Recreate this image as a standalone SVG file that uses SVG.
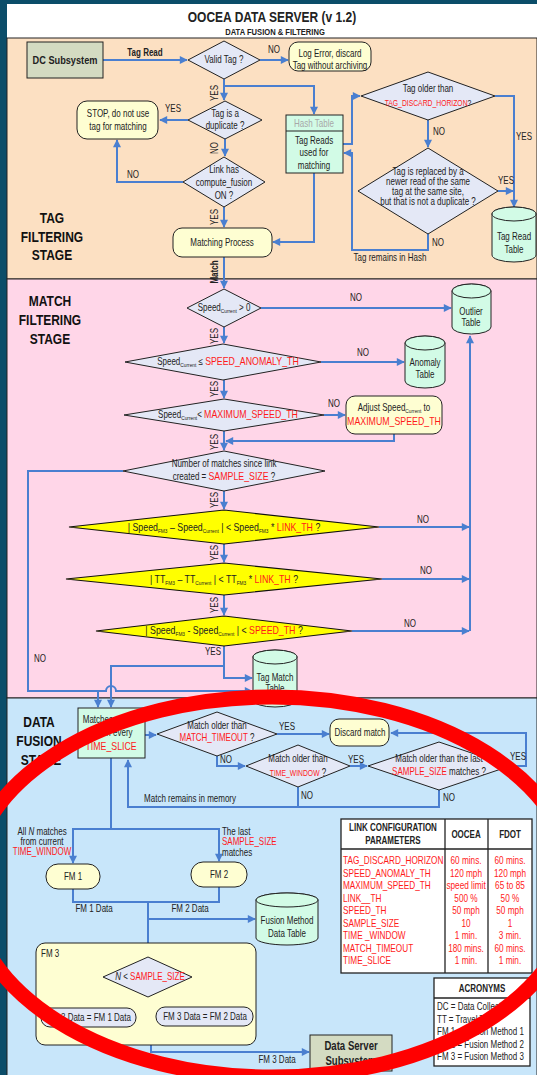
<svg xmlns="http://www.w3.org/2000/svg" width="537" height="1075" viewBox="0 0 537 1075">
  <defs>
    <marker id="ah" viewBox="0 0 10 10" refX="9" refY="5" markerWidth="4.5" markerHeight="4" orient="auto" markerUnits="strokeWidth">
      <path d="M0,0 L10,5 L0,10 z" fill="#4a7fd0"/>
    </marker>
    <style>
      /* narrow sans look: Arial metrics squeezed horizontally around each label */
      .t{font-family:'Liberation Sans',Arial,sans-serif;font-size:10px;fill:#222;text-anchor:middle;
         transform-box:fill-box;transform-origin:center;transform:scaleX(0.8)}
      .l{text-anchor:start;transform-origin:left center}
      .b{font-weight:bold}
      .r{fill:#ff1a1a}
      .stage{font-size:15px;font-weight:bold;fill:#111}
      .p{font-size:10.3px}
      .c{fill:none;stroke:#4a7fd0;stroke-width:2}
      .a{marker-end:url(#ah)}
      .dia{fill:#e4e8f6;stroke:#222;stroke-width:1}
      .ydia{fill:#ffff00;stroke:#111;stroke-width:1.2}
      .box{fill:#fefed2;stroke:#222;stroke-width:1}
      .mint{fill:#d2fbe6;stroke:#222;stroke-width:1}
      .sub{fill:#d4dbc2;stroke:#222;stroke-width:1}
      .tbl{fill:#fff;stroke:#222;stroke-width:1.3}
    </style>
  </defs>

  <!-- page background and stage bands -->
  <rect x="0" y="0" width="537" height="1075" fill="#0b4d69"/>
  <rect x="7" y="4" width="530" height="34" fill="#fff"/>
  <rect x="7" y="38" width="530" height="241" fill="#fce0c2" stroke="#222" stroke-width="1"/>
  <rect x="7" y="279" width="530" height="419" fill="#ffd6e8" stroke="#222" stroke-width="1"/>
  <rect x="7" y="698" width="530" height="380" fill="#c8e6fa" stroke="#222" stroke-width="1"/>

  <text class="t b" x="272" y="22" style="font-size:15px">OOCEA DATA SERVER (v 1.2)</text>
  <text class="t b" x="275" y="35" style="font-size:9.5px">DATA FUSION &amp; FILTERING</text>

  <!-- stage titles -->
  <g id="stage-tag">
    <text class="t stage" x="52" y="223">TAG</text>
    <text class="t stage" x="52" y="242">FILTERING</text>
    <text class="t stage" x="52" y="260">STAGE</text>
  </g>
  <g id="stage-match">
    <text class="t stage" x="50" y="306">MATCH</text>
    <text class="t stage" x="50" y="325">FILTERING</text>
    <text class="t stage" x="50" y="344">STAGE</text>
  </g>
  <g id="stage-fusion">
    <text class="t stage" x="39" y="727">DATA</text>
    <text class="t stage" x="39" y="746">FUSION</text>
    <text class="t stage" x="41" y="765">STAGE</text>
  </g>

  <!-- connectors -->
  <g id="connectors">
    <path class="c a" d="M103,60 H187"/>
    <path class="c a" d="M260,60 H288"/>
    <path class="c a" d="M224,79 V100"/>
    <path class="c a" d="M224,86 H314 V114"/>
    <path class="c a" d="M188,120 H160"/>
    <path class="c a" d="M225,138 V156"/>
    <path class="c a" d="M183,182 H117 V140"/>
    <path class="c a" d="M224,207 V227"/>
    <path class="c a" d="M314,173 V242 H273"/>
    <path class="c a" d="M343,144 H352 V96 H360"/>
    <path class="c a" d="M495,96 H514 V207"/>
    <path class="c a" d="M428,120 V147"/>
    <path class="c a" d="M498,191 H513"/>
    <path class="c a" d="M428,234 V250 H352 V153 H344"/>
    <path class="c a" d="M224,257 V288"/>

    <path class="c a" d="M261,308 H451"/>
    <path class="c a" d="M224,327 V343"/>
    <path class="c a" d="M321,362 H404"/>
    <path class="c a" d="M224,380 V398"/>
    <path class="c a" d="M324,415 H345"/>
    <path class="c a" d="M394,434 V441 H226"/>
    <path class="c a" d="M224,431 V450"/>
    <path class="c a" d="M123,471 H28 V691 H106 a5,5 0 0 1 10,0 H252"/>
    <path class="c a" d="M224,491 V509"/>
    <path class="c a" d="M379,527 H469"/>
    <path class="c a" d="M224,544 V562"/>
    <path class="c a" d="M382,579 H469"/>
    <path class="c a" d="M224,595 V615"/>
    <path class="c a" d="M352,631 H469"/>
    <path class="c a" d="M470,631 V336"/>
    <path class="c a" d="M224,646 V678 H252"/>
    <path class="c a" d="M224,666 H111 V707"/>
    <path class="c a" d="M98,691 V707"/>

    <path class="c a" d="M145,735 H156"/>
    <path class="c a" d="M277,734 H329"/>
    <path class="c a" d="M217,756 V766 H245"/>
    <path class="c a" d="M350,766 H367"/>
    <path class="c a" d="M509,766 H526 V733 H391"/>
    <path class="c a" d="M298,787 V807 H128 V760"/>
    <path class="c" d="M439,790 V807 H298"/>
    <path class="c a" d="M111,758 V829 H73 V863"/>
    <path class="c a" d="M111,829 H219 V861"/>
    <path class="c" d="M73,889 V902 H219 V887"/>
    <path class="c a" d="M148,902 V956"/>
    <path class="c a" d="M148,919 H255"/>
    <path class="c a" d="M103,977 H89 V1007"/>
    <path class="c a" d="M192,977 H205 V1006"/>
    <path class="c" d="M89,1027 V1038 H205 V1026"/>
    <path class="c a" d="M151,1038 V1052 H309"/>
  </g>

  <!-- connector labels -->
  <g id="labels">
    <text class="t b" x="145" y="56">Tag Read</text>
    <text class="t" x="274" y="53">NO</text>
    <g transform="translate(218,93) rotate(-90)"><text class="t" x="0" y="0">YES</text></g>
    <text class="t" x="173" y="112">YES</text>
    <g transform="translate(218,148) rotate(-90)"><text class="t" x="0" y="0">NO</text></g>
    <text class="t" x="133" y="178">NO</text>
    <g transform="translate(218,217) rotate(-90)"><text class="t" x="0" y="0">YES</text></g>
    <g transform="translate(218,272) rotate(-90)"><text class="t b" x="0" y="0">Match</text></g>
    <text class="t l" x="433" y="135">NO</text>
    <text class="t" x="524" y="140">YES</text>
    <text class="t" x="506" y="184">YES</text>
    <text class="t l" x="432" y="246">NO</text>
    <text class="t" x="390" y="261">Tag remains in Hash</text>

    <text class="t" x="356" y="301">NO</text>
    <g transform="translate(218,336) rotate(-90)"><text class="t" x="0" y="0">YES</text></g>
    <text class="t" x="363" y="356">NO</text>
    <g transform="translate(218,389) rotate(-90)"><text class="t" x="0" y="0">YES</text></g>
    <text class="t" x="334" y="407">NO</text>
    <g transform="translate(218,442) rotate(-90)"><text class="t" x="0" y="0">YES</text></g>
    <g transform="translate(218,500) rotate(-90)"><text class="t" x="0" y="0">YES</text></g>
    <text class="t" x="423" y="523">NO</text>
    <g transform="translate(218,553) rotate(-90)"><text class="t" x="0" y="0">YES</text></g>
    <text class="t" x="426" y="574">NO</text>
    <g transform="translate(218,605) rotate(-90)"><text class="t" x="0" y="0">YES</text></g>
    <text class="t" x="410" y="627">NO</text>
    <text class="t" x="213" y="655">YES</text>
    <text class="t" x="40" y="662">NO</text>

    <text class="t" x="287" y="730">YES</text>
    <text class="t l" x="220" y="763">NO</text>
    <text class="t" x="356" y="763">YES</text>
    <text class="t" x="518" y="760">YES</text>
    <text class="t l" x="301" y="799">NO</text>
    <text class="t l" x="443" y="801">NO</text>
    <text class="t" x="190" y="802">Match remains in memory</text>
    <text class="t" x="42" y="835">All <tspan font-style="italic">N</tspan>  matches</text>
    <text class="t" x="42" y="845">from current</text>
    <text class="t r" x="42" y="855">TIME_WINDOW</text>
    <text class="t l" x="222" y="835">The last</text>
    <text class="t l r" x="222" y="845">SAMPLE_SIZE</text>
    <text class="t l" x="222" y="856">matches</text>
    <text class="t" x="94" y="912">FM 1 Data</text>
    <text class="t" x="190" y="912">FM 2 Data</text>
    <text class="t" x="88" y="973">NO</text>
    <text class="t" x="205" y="973">YES</text>
    <text class="t" x="277" y="1063">FM 3 Data</text>
  </g>

  <!-- tag filtering stage -->
  <g id="dc-subsystem">
    <rect class="sub" x="27" y="42" width="76" height="36"/>
    <text class="t b" x="65" y="64" style="font-size:11.5px">DC Subsystem</text>
  </g>
  <g id="valid-tag">
    <polygon class="dia" points="188,60 224,41 260,60 224,79"/>
    <text class="t" x="224" y="63">Valid Tag ?</text>
  </g>
  <g id="log-error">
    <rect class="box" x="289" y="42" width="82" height="29" rx="9"/>
    <text class="t" x="330" y="57">Log Error, discard</text>
    <text class="t" x="330" y="69">Tag without archiving</text>
  </g>
  <g id="duplicate">
    <polygon class="dia" points="188,120 225,101 262,120 225,139"/>
    <text class="t" x="225" y="117">Tag is a</text>
    <text class="t" x="225" y="129">duplicate ?</text>
  </g>
  <g id="stop">
    <rect class="box" x="77" y="101" width="81" height="38" rx="10"/>
    <text class="t" x="118" y="117">STOP, do not use</text>
    <text class="t" x="118" y="130">tag for matching</text>
  </g>
  <g id="compute-fusion">
    <polygon class="dia" points="183,182 224,157 265,182 224,207"/>
    <text class="t" x="224" y="173">Link has</text>
    <text class="t" x="224" y="186">compute_fusion</text>
    <text class="t" x="224" y="199">ON ?</text>
  </g>
  <g id="matching-process">
    <rect class="box" x="173" y="228" width="99" height="29" rx="9"/>
    <text class="t" x="222" y="246">Matching Process</text>
  </g>
  <g id="hash-table">
    <rect class="mint" x="286" y="115" width="57" height="58"/>
    <line x1="286" y1="131" x2="343" y2="131" stroke="#222" stroke-width="1"/>
    <text class="t" x="314" y="127" style="fill:#a8a8a8">Hash Table</text>
    <text class="t" x="314" y="144">Tag Reads</text>
    <text class="t" x="314" y="156">used for</text>
    <text class="t" x="314" y="169">matching</text>
  </g>
  <g id="tag-older">
    <polygon class="dia" points="361,96 428,72 495,96 428,120"/>
    <text class="t" x="428" y="92">Tag older than</text>
    <text class="t" x="428" y="106" style="font-size:8.5px"><tspan class="r">TAG_DISCARD_HORIZON</tspan>?</text>
  </g>
  <g id="tag-replaced">
    <polygon class="dia" points="358,191 428,148 498,191 428,234"/>
    <text class="t" x="428" y="175">Tag is replaced by a</text>
    <text class="t" x="428" y="185">newer read of the same</text>
    <text class="t" x="428" y="195">tag at the same site,</text>
    <text class="t" x="428" y="205">but that is not a duplicate ?</text>
  </g>
  <g id="tag-read-table">
    <path class="mint" d="M492,214 V255 A22,7 0 0 0 536,255 V214 A22,7 0 0 0 492,214 Z"/>
    <ellipse class="mint" cx="514" cy="214" rx="22" ry="7"/>
    <text class="t" x="514" y="240">Tag Read</text>
    <text class="t" x="514" y="253">Table</text>
  </g>

  <!-- match filtering stage -->
  <g id="speed-positive">
    <polygon class="dia" points="187,308 224,289 261,308 224,327"/>
    <text class="t" x="224" y="311">Speed<tspan font-size="6" dy="2">Current</tspan><tspan dy="-2"> &gt; 0</tspan></text>
  </g>
  <g id="outlier-table">
    <path class="mint" d="M452,291 V327 A19.5,7 0 0 0 491,327 V291 A19.5,7 0 0 0 452,291 Z"/>
    <ellipse class="mint" cx="471.5" cy="291" rx="19.5" ry="7"/>
    <text class="t" x="471" y="315">Outlier</text>
    <text class="t" x="471" y="326">Table</text>
  </g>
  <g id="speed-anomaly">
    <polygon class="dia" points="125,362 223,344 321,362 223,380"/>
    <text class="t" x="228" y="365">Speed<tspan font-size="6" dy="2">Current</tspan><tspan dy="-2"> ≤ </tspan><tspan class="r" style="font-size:11px">SPEED_ANOMALY_TH</tspan></text>
  </g>
  <g id="anomaly-table">
    <path class="mint" d="M405,343 V381 A20,7 0 0 0 445,381 V343 A20,7 0 0 0 405,343 Z"/>
    <ellipse class="mint" cx="425" cy="343" rx="20" ry="7"/>
    <text class="t" x="425" y="366">Anomaly</text>
    <text class="t" x="425" y="378">Table</text>
  </g>
  <g id="max-speed">
    <polygon class="dia" points="124,415 224,399 324,415 224,431"/>
    <text class="t" x="228" y="418">Speed<tspan font-size="6" dy="2">Current</tspan><tspan dy="-2">&lt; </tspan><tspan class="r" style="font-size:11px">MAXIMUM_SPEED_TH</tspan></text>
  </g>
  <g id="adjust-speed">
    <rect class="box" x="346" y="396" width="96" height="38" rx="9"/>
    <text class="t" x="394" y="411">Adjust Speed<tspan font-size="6" dy="2">Current</tspan><tspan dy="-2"> to</tspan></text>
    <text class="t r" x="394" y="425" style="font-size:11px">MAXIMUM_SPEED_TH</text>
  </g>
  <g id="sample-count">
    <polygon class="dia" points="123,471 224,451 325,471 224,491"/>
    <text class="t" x="224" y="467">Number of matches since link</text>
    <text class="t" x="224" y="480">created = <tspan class="r" style="font-size:11px">SAMPLE_SIZE</tspan> ?</text>
  </g>
  <g id="link-speed-check">
    <polygon class="ydia" points="69,527 224,510 379,527 224,544"/>
    <text class="t" x="224" y="531" style="font-size:11px">| Speed<tspan font-size="6" dy="2">FM3</tspan><tspan dy="-2"> – Speed</tspan><tspan font-size="6" dy="2">Current</tspan><tspan dy="-2"> | &lt;  Speed</tspan><tspan font-size="6" dy="2">FM3</tspan><tspan dy="-2"> * </tspan><tspan class="r">LINK_TH</tspan> ?</text>
  </g>
  <g id="link-tt-check">
    <polygon class="ydia" points="66,579 224,563 382,579 224,595"/>
    <text class="t" x="224" y="583" style="font-size:11px">| TT<tspan font-size="6" dy="2">FM3</tspan><tspan dy="-2"> – TT</tspan><tspan font-size="6" dy="2">Current</tspan><tspan dy="-2"> | &lt; TT</tspan><tspan font-size="6" dy="2">FM3</tspan><tspan dy="-2"> * </tspan><tspan class="r">LINK_TH</tspan> ?</text>
  </g>
  <g id="speed-th-check">
    <polygon class="ydia" points="96,631 224,616 352,631 224,646"/>
    <text class="t" x="224" y="634" style="font-size:11px">| Speed<tspan font-size="6" dy="2">FM3</tspan><tspan dy="-2"> - Speed</tspan><tspan font-size="6" dy="2">Current</tspan><tspan dy="-2"> | &lt; </tspan><tspan class="r">SPEED_TH</tspan> ?</text>
  </g>
  <g id="tag-match-table">
    <path class="mint" d="M253,657 V700 A22,7 0 0 0 297,700 V657 A22,7 0 0 0 253,657 Z"/>
    <ellipse class="mint" cx="275" cy="657" rx="22" ry="7"/>
    <text class="t" x="275" y="681">Tag Match</text>
    <text class="t" x="275" y="692">Table</text>
  </g>

  <!-- data fusion stage -->
  <g id="match-buffer">
    <rect class="mint" x="78" y="708" width="67" height="50"/>
    <text class="t" x="111" y="723">Matches sent to</text>
    <text class="t" x="111" y="736">fusion every</text>
    <text class="t r" x="111" y="750" style="font-size:11px">TIME_SLICE</text>
  </g>
  <g id="match-timeout">
    <polygon class="dia" points="157,734 217,712 277,734 217,756"/>
    <text class="t" x="217" y="729">Match older than</text>
    <text class="t" x="217" y="741"><tspan class="r">MATCH_TIMEOUT</tspan> ?</text>
  </g>
  <g id="discard-match">
    <rect class="box" x="330" y="719" width="59" height="27" rx="9"/>
    <text class="t" x="360" y="736">Discard match</text>
  </g>
  <g id="time-window">
    <polygon class="dia" points="246,766 298,745 350,766 298,787"/>
    <text class="t" x="298" y="762">Match older than</text>
    <text class="t" x="298" y="776"><tspan class="r" style="font-size:8.5px">TIME_WINDOW</tspan> ?</text>
  </g>
  <g id="last-sample">
    <polygon class="dia" points="368,766 439,742 510,766 439,790"/>
    <text class="t" x="439" y="762">Match older than the last</text>
    <text class="t" x="439" y="775"><tspan class="r">SAMPLE_SIZE</tspan> matches  ?</text>
  </g>
  <g id="fm1">
    <rect class="box" x="46" y="864" width="54" height="25" rx="12"/>
    <text class="t" x="73" y="880">FM 1</text>
  </g>
  <g id="fm2">
    <rect class="box" x="191" y="862" width="56" height="25" rx="12"/>
    <text class="t" x="219" y="878">FM 2</text>
  </g>
  <g id="fusion-table">
    <path class="mint" d="M256,900 V938 A31,7 0 0 0 318,938 V900 A31,7 0 0 0 256,900 Z"/>
    <ellipse class="mint" cx="287" cy="900" rx="31" ry="7"/>
    <text class="t" x="287" y="924">Fusion Method</text>
    <text class="t" x="287" y="937">Data Table</text>
  </g>
  <g id="fm3">
    <rect class="box" x="36" y="943" width="220" height="102" rx="9"/>
    <text class="t l" x="41" y="957">FM 3</text>
    <polygon class="dia" points="103,977 148,957 192,977 148,997"/>
    <text class="t" x="150" y="980"><tspan font-style="italic">N</tspan> &lt; <tspan class="r">SAMPLE_SIZE</tspan></text>
    <rect class="dia" x="41" y="1008" width="95" height="19" rx="9"/>
    <text class="t" x="89" y="1021">FM 3 Data = FM 1 Data</text>
    <rect class="dia" x="156" y="1007" width="97" height="19" rx="9"/>
    <text class="t" x="205" y="1020">FM 3 Data = FM 2 Data</text>
  </g>
  <g id="data-server">
    <rect class="sub" x="310" y="1035" width="82" height="36"/>
    <text class="t b" x="351" y="1050" style="font-size:12px">Data Server</text>
    <text class="t b" x="351" y="1065" style="font-size:12px">Subsystem</text>
  </g>

  <!-- configuration table -->
  <g id="link-config">
    <rect class="tbl" x="341" y="819" width="191" height="154"/>
    <line x1="341" y1="849" x2="532" y2="849" stroke="#222" stroke-width="1.3"/>
    <line x1="445" y1="819" x2="445" y2="973" stroke="#222" stroke-width="1.3"/>
    <line x1="488" y1="819" x2="488" y2="973" stroke="#222" stroke-width="1.3"/>
    <text class="t b" x="393" y="831">LINK CONFIGURATION</text>
    <text class="t b" x="393" y="844">PARAMETERS</text>
    <text class="t b" x="466" y="838">OOCEA</text>
    <text class="t b" x="510" y="838">FDOT</text>
    <text class="t l r p" x="343" y="864">TAG_DISCARD_HORIZON</text>
    <text class="t l r p" x="343" y="877">SPEED_ANOMALY_TH</text>
    <text class="t l r p" x="343" y="889">MAXIMUM_SPEED_TH</text>
    <text class="t l r p" x="343" y="902">LINK__TH</text>
    <text class="t l r p" x="343" y="914">SPEED_TH</text>
    <text class="t l r p" x="343" y="927">SAMPLE_SIZE</text>
    <text class="t l r p" x="343" y="939">TIME _WINDOW</text>
    <text class="t l r p" x="343" y="952">MATCH_TIMEOUT</text>
    <text class="t l r p" x="343" y="964">TIME_SLICE</text>
    <text class="t r p" x="466" y="864">60 mins.</text>
    <text class="t r p" x="466" y="877">120 mph</text>
    <text class="t r p" x="466" y="889">speed limit</text>
    <text class="t r p" x="466" y="902">500 %</text>
    <text class="t r p" x="466" y="914">50 mph</text>
    <text class="t r p" x="466" y="927">10</text>
    <text class="t r p" x="466" y="939">1 min.</text>
    <text class="t r p" x="466" y="952">180 mins.</text>
    <text class="t r p" x="466" y="964">1 min.</text>
    <text class="t r p" x="510" y="864">60 mins.</text>
    <text class="t r p" x="510" y="877">120 mph</text>
    <text class="t r p" x="510" y="889">65 to 85</text>
    <text class="t r p" x="510" y="902">50 %</text>
    <text class="t r p" x="510" y="914">50 mph</text>
    <text class="t r p" x="510" y="927">1</text>
    <text class="t r p" x="510" y="939">3 min.</text>
    <text class="t r p" x="510" y="952">60 mins.</text>
    <text class="t r p" x="510" y="964">1 min.</text>
  </g>
  <g id="acronyms">
    <rect class="tbl" x="434" y="978" width="96" height="88"/>
    <line x1="434" y1="998" x2="530" y2="998" stroke="#222" stroke-width="1.3"/>
    <text class="t b" x="482" y="992">ACRONYMS</text>
    <text class="t l" x="437" y="1010">DC = Data Collection</text>
    <text class="t l" x="437" y="1023">TT = Travel Time</text>
    <text class="t l" x="437" y="1035">FM 1 = Fusion Method 1</text>
    <text class="t l" x="437" y="1048">FM 2 = Fusion Method 2</text>
    <text class="t l" x="437" y="1060">FM 3 = Fusion Method 3</text>
  </g>

  <!-- red highlight ring drawn over the fusion stage -->
  <ellipse cx="272" cy="887" rx="303" ry="190" fill="none" stroke="#ff0000" stroke-width="15"/>
</svg>
